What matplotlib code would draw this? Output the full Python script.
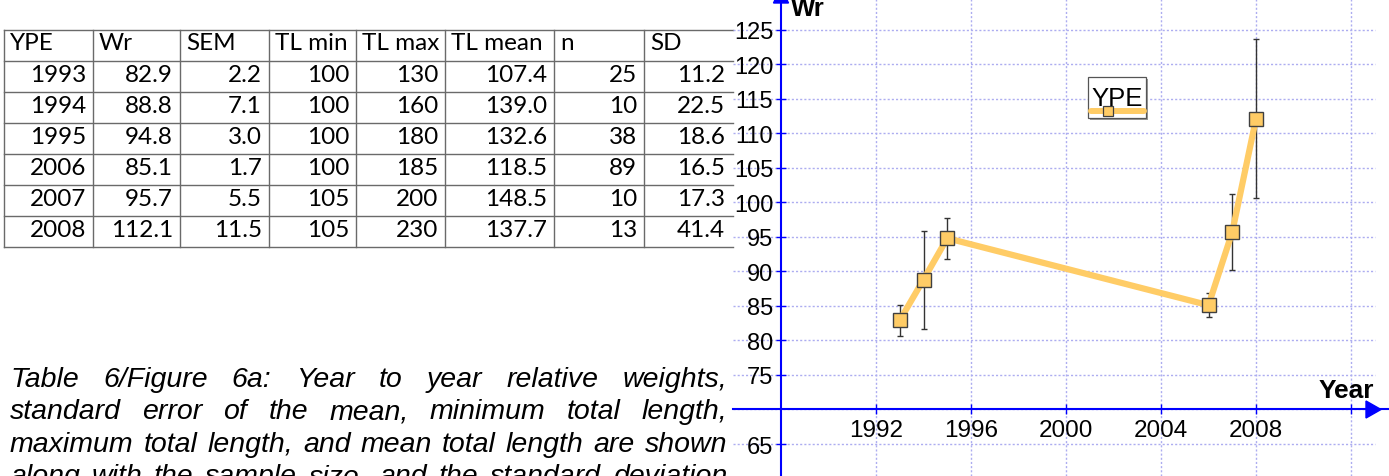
import matplotlib
matplotlib.use("Agg")
import matplotlib.pyplot as plt
from matplotlib.patches import Rectangle, Polygon
from matplotlib.lines import Line2D
from matplotlib.transforms import Affine2D

W, H, DPI = 1389, 477, 100

# ---- data (table 6) ----
years = [1993, 1994, 1995, 2006, 2007, 2008]
wr = [82.9, 88.8, 94.8, 85.1, 95.7, 112.1]
sem = [2.2, 7.1, 3.0, 1.7, 5.5, 11.5]
tl_min = [100, 100, 100, 100, 105, 105]
tl_max = [130, 160, 180, 185, 200, 230]
tl_mean = [107.4, 139.0, 132.6, 118.5, 148.5, 137.7]
n_fish = [25, 10, 38, 89, 10, 13]
sd = [11.2, 22.5, 18.6, 16.5, 17.3, 41.4]

headers = ["YPE", "Wr", "SEM", "TL min", "TL max", "TL mean", "n", "SD"]
series_name = "YPE"

y_ticks = [65, 75, 80, 85, 90, 95, 100, 105, 110, 115, 120, 125]
x_ticks = [1992, 1996, 2000, 2004, 2008, 2012]
x_tick_labels = ["1992", "1996", "2000", "2004", "2008", ""]

caption_lines = [
    "Table 6/Figure 6a: Year to year relative weights,",
    "standard error of the mean, minimum total length,",
    "maximum total length, and mean total length are shown",
    "along with the sample size, and the standard deviation",
]

LINE_COLOR = "#ffcc66"
EDGE_COLOR = "#404040"
AXIS_BLUE = "#0000ff"
GRID_COLOR = "#adadf0"
TABLE_LINE = "#6a6a6a"

plt.rcParams["font.family"] = ["Liberation Sans", "DejaVu Sans"]

fig = plt.figure(figsize=(W / DPI, H / DPI), dpi=DPI)

# full-figure canvas in pixel units (origin top-left) for table + caption
canvas = fig.add_axes([0, 0, 1, 1])
canvas.set_xlim(0, W)
canvas.set_ylim(H, 0)
canvas.axis("off")

# ---- table ----
col_edges = [3.5, 93, 180, 269, 356, 445, 554, 644, 733]
row_top, row_h = 30.5, 31.07
n_rows = len(years) + 1
for i in range(n_rows + 1):
    y = row_top + i * row_h
    canvas.plot([col_edges[0], col_edges[-1]], [y, y], color=TABLE_LINE, lw=1.0)
for x in col_edges[:-1]:
    canvas.plot([x, x], [row_top, row_top + n_rows * row_h], color=TABLE_LINE, lw=1.0)

table_font = dict(family=["Lato", "DejaVu Sans"], fontsize=17.5, color="black", va="baseline")
for j, h in enumerate(headers):
    canvas.text(col_edges[j] + 6, row_top + 19.5, h, ha="left", **table_font)

columns = [years, wr, sem, tl_min, tl_max, tl_mean, n_fish, sd]
fmts = ["{:d}", "{:.1f}", "{:.1f}", "{:d}", "{:d}", "{:.1f}", "{:d}", "{:.1f}"]
for j, (col, fmt) in enumerate(zip(columns, fmts)):
    right = col_edges[j + 1] - (8 if j == len(columns) - 1 else 7)
    for i, v in enumerate(col):
        canvas.text(right, row_top + (i + 1) * row_h + 20, fmt.format(v), ha="right", **table_font)

# ---- caption, justified (last line is cut by the bottom edge, as in the source) ----
renderer = fig.canvas.get_renderer()
cap_left, cap_right = 10, 727
for li, line in enumerate(caption_lines):
    words = line.split()
    base = 387 + li * 32.5
    texts = [canvas.text(0, base, w, fontsize=20.5, style="italic", va="baseline", ha="left")
             for w in words]
    widths = [t.get_window_extent(renderer=renderer).width for t in texts]
    gap = (cap_right - cap_left - sum(widths)) / (len(words) - 1)
    x = cap_left
    for t, w in zip(texts, widths):
        t.set_x(x)
        x += w + gap

# ---- chart ----
axis_px, px_per_year, axis_year = 781, 23.75, 1988
y125_px, px_per_unit = 30.7, 6.905
ax_left_px = 733
xlim = (axis_year - (axis_px - ax_left_px) / px_per_year, axis_year + (W - axis_px) / px_per_year)
ylim = (125 - (H - y125_px) / px_per_unit, 125 + y125_px / px_per_unit)

ax = fig.add_axes([ax_left_px / W, 0, (W - ax_left_px) / W, 1])
ax.patch.set_alpha(0)
ax.set_xlim(*xlim)
ax.set_ylim(*ylim)

pix = Affine2D().scale(1, -1).translate(0, H)  # pixel (top-left origin) -> display

grid_right = axis_year + (1375 - axis_px) / px_per_year
ax.hlines(range(65, 126, 5), xlim[0], grid_right, colors=GRID_COLOR,
          linestyles=(0, (1.5, 1.5)), lw=1.0, zorder=0.5)
ax.vlines(range(1992, 2013, 4), ylim[0], ylim[1], colors=GRID_COLOR,
          linestyles=(0, (1.5, 1.5)), lw=1.0, zorder=0.5)

for side in ("top", "right"):
    ax.spines[side].set_visible(False)
ax.spines["left"].set_position(("data", axis_year))
ax.spines["bottom"].set_position(("data", 70))
for side in ("left", "bottom"):
    ax.spines[side].set_color(AXIS_BLUE)
    ax.spines[side].set_linewidth(1.5)
    ax.spines[side].set_zorder(3)

ax.set_yticks(y_ticks)
ax.set_yticklabels([str(v) for v in y_ticks])
ax.set_xticks(x_ticks)
ax.set_xticklabels(x_tick_labels)
ax.tick_params(axis="both", direction="inout", length=7, width=1, color=AXIS_BLUE)
ax.tick_params(axis="y", labelsize=17, pad=2.0)
ax.tick_params(axis="x", labelsize=17.5, pad=3)

ax.errorbar(years, wr, yerr=sem, fmt="s-", color=LINE_COLOR, lw=4.5, ms=10,
            mfc=LINE_COLOR, mec=EDGE_COLOR, mew=1.0, ecolor="#333333",
            elinewidth=1.0, capsize=2.4, capthick=1.0, zorder=4)

# axis arrows and names
ax.add_patch(Polygon([(781, -12), (773.5, 4), (788.5, 4)], closed=True, transform=pix,
                     color=AXIS_BLUE, clip_on=False, zorder=5))
ax.add_patch(Polygon([(1381, 410.5), (1366, 402), (1366, 419)], closed=True, transform=pix,
                     color=AXIS_BLUE, clip_on=False, zorder=5))
ax.text(791, 16, "Wr", transform=pix, fontsize=18.5, fontweight="bold", ha="left", va="baseline")
ax.text(1374, 398, "Year", transform=pix, fontsize=19, fontweight="bold", ha="right", va="baseline")

# legend box
ax.add_patch(Rectangle((1090, 80), 58, 41, transform=pix, facecolor="#9a9a9a",
                       edgecolor="none", zorder=6, clip_on=False))
ax.add_patch(Rectangle((1088, 78), 58, 41, transform=pix, facecolor="white",
                       edgecolor="#555555", lw=0.9, zorder=6, clip_on=False))
ax.add_line(Line2D([1091, 1144], [112, 112], transform=pix, color=LINE_COLOR, lw=4.3,
                   solid_capstyle="round", zorder=7))
ax.add_line(Line2D([1108], [112], transform=pix, marker="s", ms=7, mfc=LINE_COLOR,
                   mec=EDGE_COLOR, mew=0.9, zorder=8))
ax.text(1117, 106, series_name, transform=pix, fontsize=18.5, ha="center", va="baseline", zorder=8)

fig.savefig("out.png", dpi=DPI)
